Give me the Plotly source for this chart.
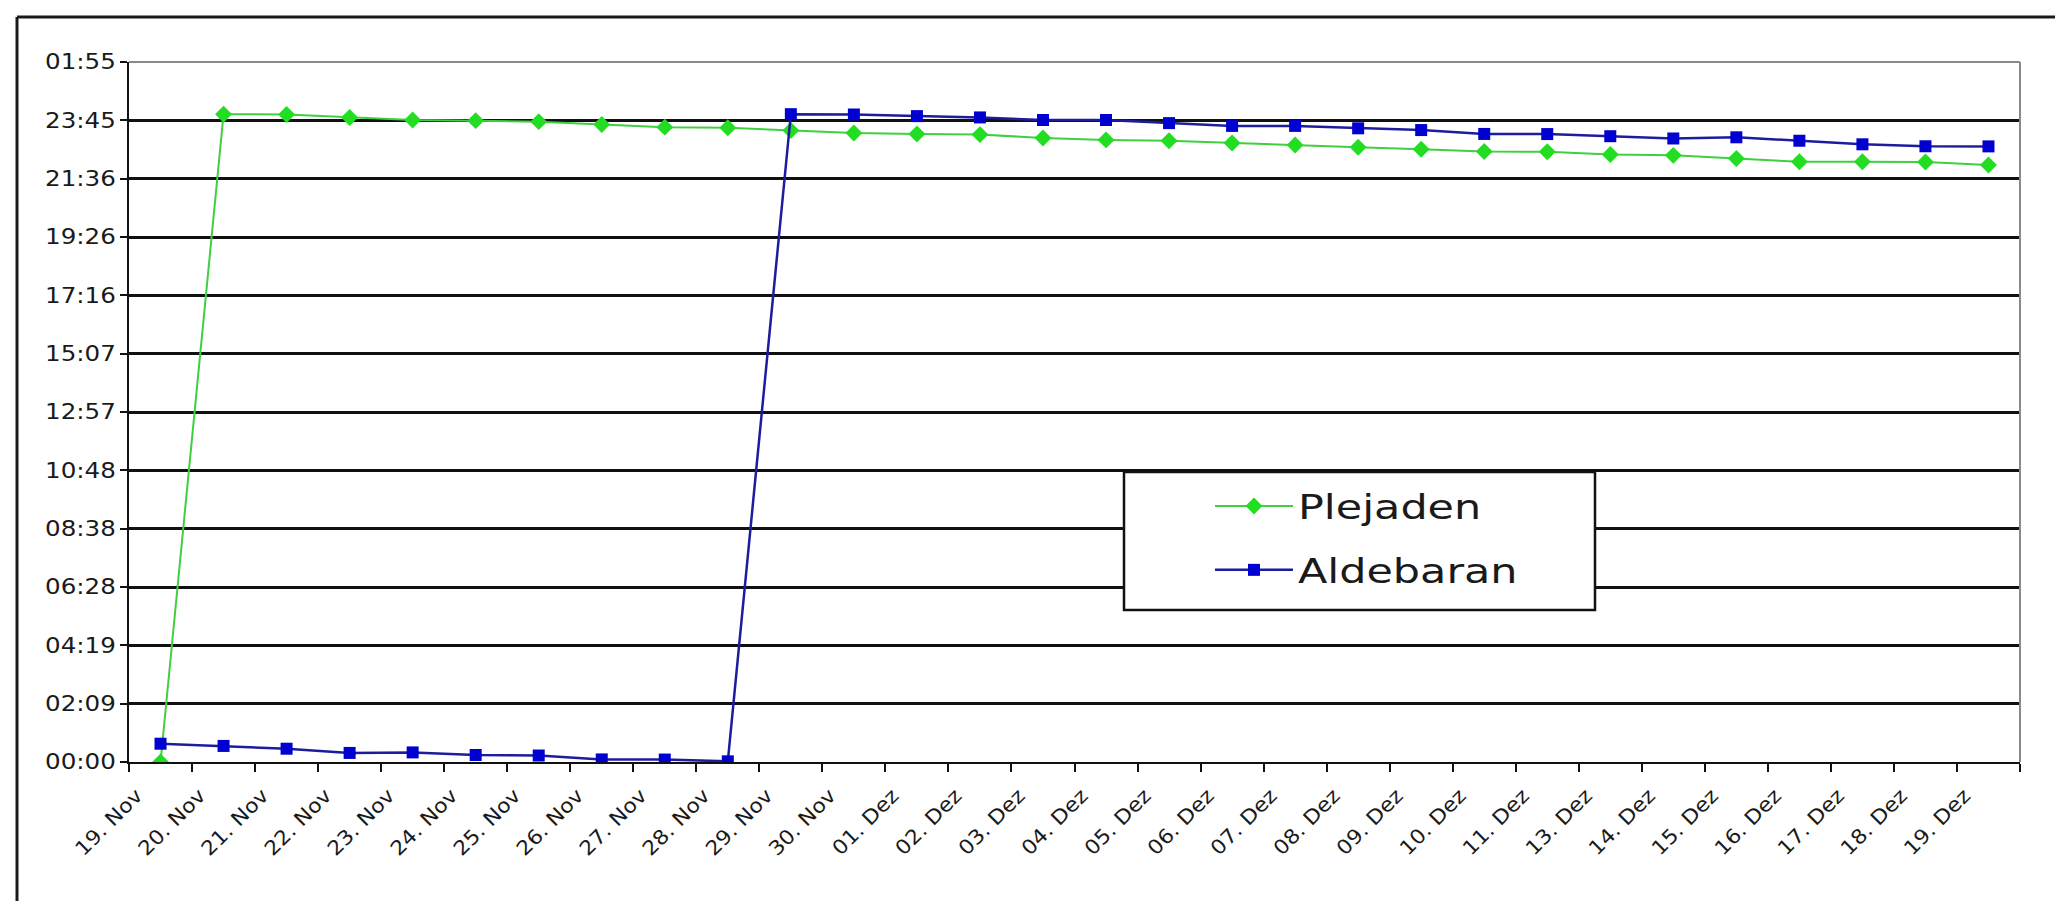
import plotly.graph_objects as go

# Categories (dates) on the x axis
dates = [
    "19. Nov", "20. Nov", "21. Nov", "22. Nov", "23. Nov", "24. Nov",
    "25. Nov", "26. Nov", "27. Nov", "28. Nov", "29. Nov", "30. Nov",
    "01. Dez", "02. Dez", "03. Dez", "04. Dez", "05. Dez", "06. Dez",
    "07. Dez", "08. Dez", "09. Dez", "10. Dez", "11. Dez", "13. Dez",
    "14. Dez", "15. Dez", "16. Dez", "17. Dez", "18. Dez", "19. Dez",
]

# Times as fractions of a day
plejaden = [
    0.0000, 0.9995, 0.9990, 0.9943, 0.9905, 0.9895, 0.9880, 0.9836, 0.9795, 0.9785,
    0.9745, 0.9705, 0.9690, 0.9680, 0.9628, 0.9598, 0.9586, 0.9550, 0.9520, 0.9485,
    0.9455, 0.9420, 0.9415, 0.9372, 0.9360, 0.9310, 0.9260, 0.9262, 0.9258, 0.9212,
]
aldebaran = [
    0.0282, 0.0248, 0.0205, 0.0140, 0.0148, 0.0108, 0.0100, 0.0040, 0.0038, 0.0010,
    0.9995, 0.9990, 0.9965, 0.9945, 0.9905, 0.9905, 0.9857, 0.9814, 0.9814, 0.9777,
    0.9750, 0.9690, 0.9688, 0.9655, 0.9620, 0.9638, 0.9585, 0.9530, 0.9500, 0.9498,
]

# Y axis ticks (multiples of 0.09 day) and their clock labels
y_ticks = [0.00, 0.09, 0.18, 0.27, 0.36, 0.45, 0.54, 0.63, 0.72, 0.81, 0.90, 0.99, 1.08]
y_labels = ["00:00", "02:09", "04:19", "06:28", "08:38", "10:48", "12:57",
            "15:07", "17:16", "19:26", "21:36", "23:45", "01:55"]

W, H = 2055, 901
ML, MR, MT, MB = 129, 35, 62, 139
PW, PH = W - ML - MR, H - MT - MB


def px_x(p):
    return (p - ML) / PW


def px_y(p):
    return 1 - (p - MT) / PH


FONT = "DejaVu Sans"

fig = go.Figure()
fig.add_trace(go.Scatter(
    x=dates, y=plejaden, name="Plejaden", mode="lines+markers",
    legendgroup="p",
    line=dict(color="#3fcf3f", width=2),
    marker=dict(symbol="diamond", size=13, color="#22dd22"),
))
fig.add_trace(go.Scatter(
    x=dates, y=aldebaran, name="Aldebaran", mode="lines+markers",
    legendgroup="a",
    line=dict(color="#1c1c9e", width=2.5),
    marker=dict(symbol="square", size=12, color="#0000d0"),
))

shapes = [
    # outer chart frame (top and left edges)
    dict(type="line", xref="paper", yref="paper",
         x0=px_x(17), x1=px_x(W + 10), y0=px_y(17), y1=px_y(17),
         line=dict(color="#1a1a1a", width=3)),
    dict(type="line", xref="paper", yref="paper",
         x0=px_x(17), x1=px_x(17), y0=px_y(17), y1=px_y(H + 10),
         line=dict(color="#1a1a1a", width=3)),
    # plot area border, top and right
    dict(type="line", xref="paper", yref="paper", x0=0, x1=1, y0=1, y1=1,
         line=dict(color="#8a8a8a", width=2), layer="above"),
    dict(type="line", xref="paper", yref="paper", x0=1, x1=1, y0=0, y1=1,
         line=dict(color="#8a8a8a", width=2), layer="above"),
    # legend frame
    dict(type="rect", xref="paper", yref="paper",
         x0=px_x(1124), x1=px_x(1595), y0=px_y(472), y1=px_y(610),
         fillcolor="white", line=dict(color="#111111", width=2.5), layer="above"),
]

fig.update_layout(
    width=W, height=H,
    margin=dict(l=ML, r=MR, t=MT, b=MB),
    paper_bgcolor="white", plot_bgcolor="white",
    font=dict(family=FONT, color="#1a1a1a"),
    shapes=shapes,
    showlegend=True,
    legend=dict(
        x=px_x(1210), y=px_y(478), xanchor="left", yanchor="top",
        bgcolor="rgba(0,0,0,0)", borderwidth=0,
        font=dict(family=FONT, size=33, color="#1a1a1a"),
        tracegroupgap=18, itemwidth=78,
    ),
    xaxis=dict(
        type="category", categoryorder="array", categoryarray=dates,
        range=[-0.5, len(dates) - 0.5],
        showgrid=False, zeroline=False,
        showline=True, linecolor="#111111", linewidth=2,
        ticks="outside", tickson="boundaries", ticklen=8, tickwidth=2, tickcolor="#111111",
        tickangle=-45, ticklabelshift=-24, ticklabelstandoff=12,
        tickfont=dict(family=FONT, size=20, color="#1a1a1a"),
    ),
    yaxis=dict(
        range=[0, 1.08], tickmode="array", tickvals=y_ticks, ticktext=y_labels,
        showgrid=True, gridcolor="#111111", gridwidth=2.5, zeroline=False,
        showline=True, linecolor="#111111", linewidth=2,
        ticks="outside", ticklen=7, tickwidth=2, tickcolor="#111111",
        tickfont=dict(family=FONT, size=21, color="#1a1a1a"),
    ),
)

# Widen tick labels and legend texts horizontally (wide, flat lettering)
widen_js = """
var gd = document.getElementById('{plot_id}');
function widen(sel, k) {
  gd.querySelectorAll(sel).forEach(function (t) {
    if (t.getAttribute('data-w0')) { return; }
    var w = t.getComputedTextLength();
    t.setAttribute('data-w0', w);
    t.setAttribute('textLength', (w * k).toFixed(1));
    t.setAttribute('lengthAdjust', 'spacingAndGlyphs');
  });
}
function widenAll() {
  widen('.ytick text', 1.17);
  widen('.xtick text', 1.1);
  widen('.legendtext', 1.3);
  gd.querySelectorAll('.legend .scrollbox').forEach(function (g) {
    g.removeAttribute('clip-path');
  });
}
widenAll();
gd.on('plotly_afterplot', widenAll);
"""

fig.write_html("out.html", post_script=widen_js)
